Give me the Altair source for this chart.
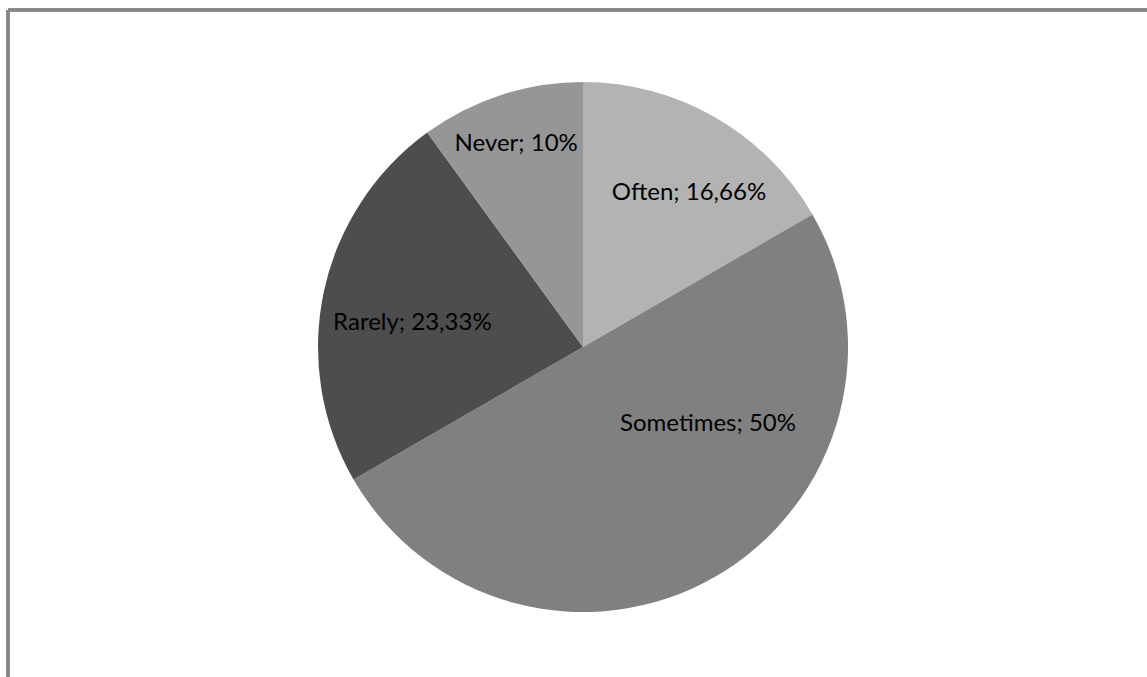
import altair as alt
import pandas as pd

categories = ["Often", "Sometimes", "Rarely", "Never"]
values = [16.66, 50, 23.33, 10]
labels = ["Often; 16,66%", "Sometimes; 50%", "Rarely; 23,33%", "Never; 10%"]
colors = ["#b3b3b3", "#808080", "#4d4d4d", "#969696"]

df = pd.DataFrame({
    "category": categories,
    "value": values,
    "label": labels,
    "idx": list(range(len(categories))),
})

W, H = 1139, 667
CX, CY = 575, 337  # pie centre within the view
R = 265

base = alt.Chart(df)

pie = base.mark_arc(outerRadius=R, stroke=None).encode(
    theta=alt.Theta("value:Q", stack=True),
    order=alt.Order("idx:Q"),
    color=alt.Color("category:N", scale=alt.Scale(domain=categories, range=colors), legend=None),
    x=alt.value(CX),
    y=alt.value(CY),
)

lab_base = base.transform_window(
    cum="sum(value)", sort=[alt.SortField("idx")], frame=[None, 0]
).transform_joinaggregate(
    total="sum(value)"
).transform_calculate(
    mid="(datum.cum - datum.value / 2) / datum.total * 2 * PI"
)

# per-label placement (radius and fine offset), like Excel's best-fit labels
placement = {
    "Often": (190, 11, 11),
    "Sometimes": (150, 50, -53),
    "Rarely": (200, 25, 18),
    "Never": (200, -5, -13),
}

text_layers = []
for cat in categories:
    r, dx, dy = placement[cat]
    text_layers.append(
        lab_base.transform_filter(alt.datum.category == cat).mark_text(
            radius=r, dx=dx, dy=dy, font="Lato", fontSize=24, color="#000000",
            align="center", baseline="middle",
        ).encode(
            theta=alt.Theta("mid:Q", scale=None),
            text="label:N",
            x=alt.value(CX),
            y=alt.value(CY),
        )
    )

frame_top = base.mark_rule(color="#868686", strokeWidth=3).encode(
    x=alt.value(0), x2=alt.value(W + 10), y=alt.value(0)
)
frame_left = base.mark_rule(color="#868686", strokeWidth=3).encode(
    x=alt.value(0), y=alt.value(0), y2=alt.value(H + 10)
)

chart = alt.layer(pie, *text_layers, frame_top, frame_left).properties(
    width=W, height=H,
    autosize=alt.AutoSizeParams(type="none"),
    padding={"left": 8, "top": 10, "right": 0, "bottom": 0},
    background="white",
).configure_view(stroke=None)

chart.save("out.html", embed_options={"renderer": "svg", "actions": False})
